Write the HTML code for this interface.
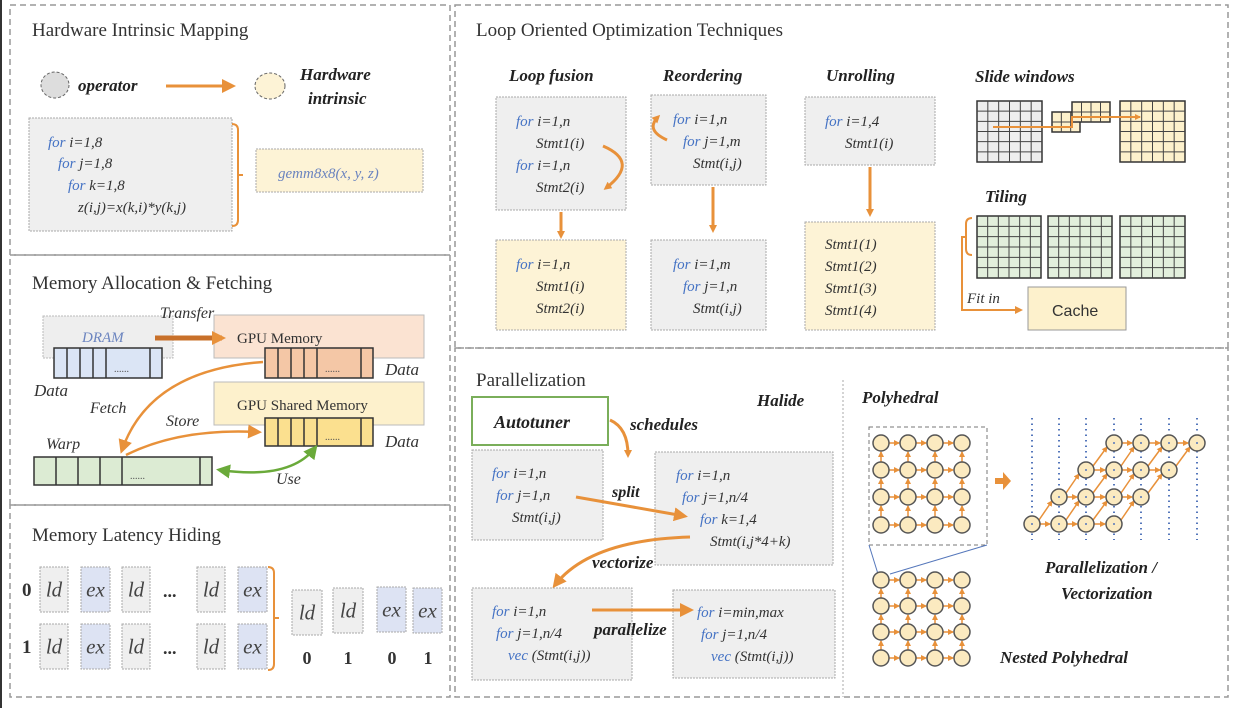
<!DOCTYPE html>
<html><head><meta charset="utf-8"><style>
html,body{margin:0;padding:0;background:#fff;}
svg{display:block;font-family:"Liberation Serif",serif;}
.t{font-size:19px;fill:#333;}
.c{font-size:15px;font-style:italic;fill:#333;}
.k{fill:#4472c4;}
.h{font-size:16px;font-style:italic;font-weight:bold;fill:#222;}
.panel{fill:none;stroke:#999;stroke-width:1.5;stroke-dasharray:6,4;}
.gb{fill:#efefef;stroke:#aaa;stroke-dasharray:2,1;}
.yb{fill:#fdf3d6;stroke:#aaa;stroke-dasharray:2,1;}
.bb{fill:#dde3f3;stroke:#aaa;stroke-dasharray:2,1;}
.or{stroke:#e8913a;stroke-width:3;fill:none;}
</style></head><body>
<svg id="s" width="1240" height="708" viewBox="0 0 1240 708" xmlns="http://www.w3.org/2000/svg">
<defs>
<marker id="a" markerWidth="8" markerHeight="8" refX="5" refY="4" orient="auto" markerUnits="userSpaceOnUse"><path d="M0,0 L8,4 L0,8 z" fill="#e8913a"/></marker>
<marker id="ab" markerWidth="14" markerHeight="14" refX="10" refY="7" orient="auto" markerUnits="userSpaceOnUse"><path d="M0,0 L14,7 L0,14 z" fill="#e8913a"/></marker>
<marker id="ag" markerWidth="14" markerHeight="14" refX="10" refY="7" orient="auto-start-reverse" markerUnits="userSpaceOnUse"><path d="M0,0 L14,7 L0,14 z" fill="#6aaa3a"/></marker>
<marker id="as" markerWidth="6" markerHeight="6" refX="5" refY="3" orient="auto" markerUnits="userSpaceOnUse"><path d="M0,0 L6,3 L0,6 z" fill="#e8913a"/></marker>
</defs>
<rect x="0" y="0" width="1240" height="708" fill="#fff"/>
<line x1="1" y1="0" x2="1" y2="708" stroke="#333" stroke-width="2"/>
<rect class="panel" x="10" y="5" width="440" height="250"/>
<rect class="panel" x="10" y="255" width="440" height="250"/>
<rect class="panel" x="10" y="505" width="440" height="192"/>
<rect class="panel" x="455" y="5" width="773" height="343"/>
<rect class="panel" x="455" y="348" width="773" height="349"/>
<line x1="843" y1="380" x2="843" y2="697" stroke="#aaa" stroke-dasharray="2,2"/>

<text class="t" x="32" y="36">Hardware Intrinsic Mapping</text>
<ellipse cx="55" cy="85" rx="14" ry="13" fill="#ddd" stroke="#666" stroke-dasharray="3,2"/>
<text class="h" x="78" y="91" style="font-size:17px">operator</text>
<line class="or" x1="166" y1="86" x2="232" y2="86" marker-end="url(#ab)"/>
<ellipse cx="270" cy="86" rx="15" ry="13" fill="#fdf3d6" stroke="#666" stroke-dasharray="3,2"/>
<text class="h" x="300" y="80" style="font-size:17px">Hardware</text>
<text class="h" x="308" y="104" style="font-size:17px">intrinsic</text>
<rect class="gb" x="29" y="118" width="203" height="113"/>
<text class="c" x="48" y="147"><tspan class="k">for</tspan> i=1,8</text>
<text class="c" x="58" y="168"><tspan class="k">for</tspan> j=1,8</text>
<text class="c" x="68" y="190"><tspan class="k">for</tspan> k=1,8</text>
<text class="c" x="78" y="212">z(i,j)=x(k,i)*y(k,j)</text>
<path d="M232,124 Q238,124 238,130 L238,220 Q238,226 232,226 M238,175 L243,175" stroke="#e8913a" stroke-width="2" fill="none"/>
<rect class="yb" x="256" y="149" width="167" height="43"/>
<text class="c" x="278" y="178" style="fill:#6b84bf">gemm8x8(x, y, z)</text>

<text class="t" x="32" y="289">Memory Allocation &amp; Fetching</text>
<rect x="43" y="316" width="130" height="42" fill="#eee" stroke="#bbb" stroke-dasharray="2,1"/>
<text class="c" x="82" y="342" style="fill:#6b84bf;font-size:15px">DRAM</text>
<text class="c" x="160" y="318" style="font-size:16px">Transfer</text>
<rect x="214" y="315" width="210" height="43" fill="#fbe3d2" stroke="#bbb"/>
<line x1="155" y1="338" x2="222" y2="338" stroke="#c8702a" stroke-width="5" marker-end="url(#ab)"/>
<text x="237" y="343" style="font-size:15px;fill:#333">GPU Memory</text>
<rect x="54" y="348" width="108" height="30" fill="#dbe5f5" stroke="#333" stroke-width="1.5"/>
<rect x="265" y="348" width="108" height="30" fill="#f4c7a6" stroke="#333" stroke-width="1.5"/>
<rect x="214" y="382" width="210" height="43" fill="#fdf1cc" stroke="#bbb"/>
<text x="237" y="410" style="font-size:15px;fill:#333">GPU Shared Memory</text>
<rect x="265" y="418" width="108" height="28" fill="#fbe08f" stroke="#333" stroke-width="1.5"/>
<rect x="34" y="457" width="178" height="28" fill="#dcebd3" stroke="#333" stroke-width="1.5"/>
<g id="cells"></g>
<text class="c" x="385" y="375" style="font-size:17px">Data</text>
<text class="c" x="34" y="396" style="font-size:17px">Data</text>
<text class="c" x="385" y="447" style="font-size:17px">Data</text>
<text class="c" x="90" y="413" style="font-size:16px">Fetch</text>
<text class="c" x="166" y="426" style="font-size:16px">Store</text>
<text class="c" x="46" y="449" style="font-size:16px">Warp</text>
<text class="c" x="276" y="484" style="font-size:16px">Use</text>
<path d="M263,362 Q150,370 122,450" stroke="#e8913a" stroke-width="2.5" fill="none" marker-end="url(#ab)"/>
<path d="M126,455 Q180,428 258,432" stroke="#e8913a" stroke-width="2.5" fill="none" marker-end="url(#ab)"/>
<path d="M220,470 Q290,480 315,448" stroke="#6aaa3a" stroke-width="2.5" fill="none" marker-start="url(#ag)" marker-end="url(#ag)"/>

<text class="t" x="32" y="541">Memory Latency Hiding</text>
<g id="lat"></g>
<path d="M268,567 Q274,567 274,573 L274,664 Q274,670 268,670 M274,618 L279,618" stroke="#e8913a" stroke-width="2" fill="none"/>

<text class="t" x="476" y="36">Loop Oriented Optimization Techniques</text>
<text class="h" x="509" y="81" style="font-size:17px">Loop fusion</text>
<text class="h" x="663" y="81" style="font-size:17px">Reordering</text>
<text class="h" x="826" y="81" style="font-size:17px">Unrolling</text>
<text class="h" x="975" y="82" style="font-size:17px">Slide windows</text>
<text class="h" x="985" y="202" style="font-size:17px">Tiling</text>
<rect class="gb" x="496" y="97" width="130" height="113"/>
<text class="c" x="516" y="126"><tspan class="k">for</tspan> i=1,n</text>
<text class="c" x="536" y="148">Stmt1(i)</text>
<text class="c" x="516" y="170"><tspan class="k">for</tspan> i=1,n</text>
<text class="c" x="536" y="192">Stmt2(i)</text>
<path d="M603,146 Q640,162 606,188" class="or" marker-end="url(#a)"/>
<rect class="yb" x="496" y="240" width="130" height="90"/>
<text class="c" x="516" y="269"><tspan class="k">for</tspan> i=1,n</text>
<text class="c" x="536" y="291">Stmt1(i)</text>
<text class="c" x="536" y="313">Stmt2(i)</text>
<line class="or" x1="561" y1="212" x2="561" y2="236" marker-end="url(#a)"/>
<rect class="gb" x="651" y="95" width="115" height="90"/>
<text class="c" x="673" y="124"><tspan class="k">for</tspan> i=1,n</text>
<text class="c" x="683" y="146"><tspan class="k">for</tspan> j=1,m</text>
<text class="c" x="693" y="168">Stmt(i,j)</text>
<path d="M667,140 Q645,130 658,117" class="or" marker-end="url(#a)"/>
<rect class="gb" x="651" y="240" width="115" height="90"/>
<text class="c" x="673" y="269"><tspan class="k">for</tspan> i=1,m</text>
<text class="c" x="683" y="291"><tspan class="k">for</tspan> j=1,n</text>
<text class="c" x="693" y="313">Stmt(i,j)</text>
<line class="or" x1="713" y1="187" x2="713" y2="230" marker-end="url(#a)"/>
<rect class="gb" x="805" y="97" width="130" height="68"/>
<text class="c" x="825" y="126"><tspan class="k">for</tspan> i=1,4</text>
<text class="c" x="845" y="148">Stmt1(i)</text>
<rect class="yb" x="805" y="222" width="130" height="108"/>
<text class="c" x="825" y="249">Stmt1(1)</text>
<text class="c" x="825" y="271">Stmt1(2)</text>
<text class="c" x="825" y="293">Stmt1(3)</text>
<text class="c" x="825" y="315">Stmt1(4)</text>
<line class="or" x1="870" y1="167" x2="870" y2="214" marker-end="url(#a)"/>
<g id="grids"></g>
<path d="M972,218 Q966,218 966,224 L966,249 Q966,255 972,255" stroke="#e8913a" stroke-width="2" fill="none"/>
<path d="M966,237 L962,237 L962,310 L1020,310" stroke="#e8913a" stroke-width="2" fill="none" marker-end="url(#a)"/>
<text class="c" x="967" y="303">Fit in</text>
<rect x="1028" y="287" width="98" height="43" fill="#fdf1cc" stroke="#999"/>
<text x="1052" y="316" style="font-size:16px;fill:#333;font-family:'Liberation Sans',sans-serif">Cache</text>

<text class="t" x="476" y="386">Parallelization</text>
<text class="h" x="757" y="406" style="font-size:17px">Halide</text>
<rect x="472" y="397" width="136" height="48" fill="#fff" stroke="#7aae5a" stroke-width="2"/>
<text class="h" x="494" y="428" style="font-size:18px">Autotuner</text>
<text class="h" x="630" y="430" style="font-size:17px">schedules</text>
<path d="M610,420 Q628,428 628,455" class="or" marker-end="url(#a)"/>
<rect class="gb" x="472" y="450" width="131" height="90"/>
<text class="c" x="492" y="478"><tspan class="k">for</tspan> i=1,n</text>
<text class="c" x="496" y="500"><tspan class="k">for</tspan> j=1,n</text>
<text class="c" x="512" y="522">Stmt(i,j)</text>
<rect class="gb" x="655" y="452" width="178" height="113"/>
<text class="c" x="676" y="480"><tspan class="k">for</tspan> i=1,n</text>
<text class="c" x="682" y="502"><tspan class="k">for</tspan> j=1,n/4</text>
<text class="c" x="700" y="524"><tspan class="k">for</tspan> k=1,4</text>
<text class="c" x="710" y="546">Stmt(i,j*4+k)</text>
<text class="h" x="612" y="497" style="font-size:16px">split</text>
<line class="or" x1="576" y1="497" x2="684" y2="516" marker-end="url(#ab)"/>
<rect class="gb" x="472" y="588" width="160" height="92"/>
<text class="c" x="492" y="616"><tspan class="k">for</tspan> i=1,n</text>
<text class="c" x="496" y="638"><tspan class="k">for</tspan> j=1,n/4</text>
<text class="c" x="508" y="660"><tspan class="k">vec</tspan> (Stmt(i,j))</text>
<rect class="gb" x="673" y="590" width="162" height="88"/>
<text class="c" x="697" y="617"><tspan class="k">for</tspan> i=min,max</text>
<text class="c" x="701" y="639"><tspan class="k">for</tspan> j=1,n/4</text>
<text class="c" x="711" y="661"><tspan class="k">vec</tspan> (Stmt(i,j))</text>
<path d="M690,537 Q590,540 555,585" class="or" marker-end="url(#ab)"/>
<text class="h" x="592" y="568" style="font-size:17px">vectorize</text>
<line class="or" x1="592" y1="610" x2="690" y2="610" marker-end="url(#ab)"/>
<text class="h" x="594" y="635" style="font-size:17px">parallelize</text>

<text class="h" x="862" y="403" style="font-size:17px">Polyhedral</text>
<rect x="869" y="427" width="118" height="118" fill="none" stroke="#777" stroke-dasharray="4,3"/>
<line x1="869" y1="545" x2="878" y2="574" stroke="#5577bb"/>
<line x1="987" y1="545" x2="890" y2="574" stroke="#5577bb"/>
<path d="M995,478 L1003,478 L1003,472 L1011,481 L1003,490 L1003,484 L995,484 z" fill="#e8913a"/>
<g id="poly"></g>
<text class="h" x="1045" y="573" style="font-size:17px">Parallelization /</text>
<text class="h" x="1061" y="599" style="font-size:17px">Vectorization</text>
<text class="h" x="1000" y="663" style="font-size:17px">Nested Polyhedral</text>
</svg>
<script>
var NS="http://www.w3.org/2000/svg";
function el(p,t,a){var e=document.createElementNS(NS,t);for(var k in a)e.setAttribute(k,a[k]);document.getElementById(p).appendChild(e);return e;}
function cells(x,y,w,h,n,cw){for(var i=1;i<=n;i++)el("cells","line",{x1:x+i*cw,y1:y,x2:x+i*cw,y2:y+h,stroke:"#333","stroke-width":1.5});el("cells","line",{x1:x+w-12,y1:y,x2:x+w-12,y2:y+h,stroke:"#333","stroke-width":1.5});var t=el("cells","text",{x:x+n*cw+8,y:y+h-6,"font-size":"10",fill:"#555"});t.textContent="......";}
cells(54,348,108,30,4,13);cells(265,348,108,30,4,13);cells(265,418,108,28,4,13);cells(34,457,178,28,4,22);
function box(x,y,w,h,cls,txt){el("lat","rect",{x:x,y:y,width:w,height:h,"class":cls});var t=el("lat","text",{x:x+w/2,y:y+h/2+7,"text-anchor":"middle","font-size":"21","font-style":"italic",fill:"#444"});t.textContent=txt;}
[[567,"0"],[624,"1"]].forEach(function(r){var y=r[0];var l=el("lat","text",{x:22,y:y+29,"font-size":"19",fill:"#333","font-weight":"bold"});l.textContent=r[1];
box(40,y,28,45,"gb","ld");box(81,y,29,45,"bb","ex");box(122,y,28,45,"gb","ld");var d=el("lat","text",{x:163,y:y+30,"font-size":"18",fill:"#333","font-weight":"bold"});d.textContent="...";box(197,y,28,45,"gb","ld");box(238,y,29,45,"bb","ex");});
box(292,590,30,45,"gb","ld");box(333,588,30,45,"gb","ld");box(377,587,29,45,"bb","ex");box(413,588,29,45,"bb","ex");
[[307,"0"],[348,"1"],[392,"0"],[428,"1"]].forEach(function(a){var t=el("lat","text",{x:a[0],y:664,"text-anchor":"middle","font-size":"18","font-weight":"bold",fill:"#333"});t.textContent=a[1];});
function grid(x,y,w,h,nx,ny,fill){el("grids","rect",{x:x,y:y,width:w,height:h,fill:fill,stroke:"#333","stroke-width":1.5});for(var i=1;i<nx;i++)el("grids","line",{x1:x+i*w/nx,y1:y,x2:x+i*w/nx,y2:y+h,stroke:"#444","stroke-width":1});for(var j=1;j<ny;j++)el("grids","line",{x1:x,y1:y+j*h/ny,x2:x+w,y2:y+j*h/ny,stroke:"#444","stroke-width":1});}
grid(977,101,65,61,6,6,"#eee");grid(1120,101,65,61,6,6,"#fdf1cc");grid(1052,112,28,20,3,2,"#fdf1cc");grid(1072,102,38,20,4,2,"#fdf1cc");
grid(977,216,64,62,6,6,"#e2efdc");grid(1048,216,64,62,6,6,"#e2efdc");grid(1120,216,65,62,6,6,"#e2efdc");
el("grids","path",{d:"M993,127 L1072,127 L1072,117 L1140,117",stroke:"#e8913a","stroke-width":2,fill:"none","marker-end":"url(#as)"});
function circ(cx,cy,dot){el("poly","circle",{cx:cx,cy:cy,r:8,fill:"#fbeac0",stroke:"#555","stroke-width":1.5});if(dot)el("poly","circle",{cx:cx,cy:cy,r:1,fill:"#5577bb"});}
function arr(x1,y1,x2,y2){el("poly","line",{x1:x1,y1:y1,x2:x2,y2:y2,stroke:"#e8913a","stroke-width":1.5,"marker-end":"url(#as)"});}
function pgrid(x0,ys){var xs=[x0,x0+27,x0+54,x0+81];for(var r=0;r<4;r++)for(var c=0;c<4;c++){if(c<3)arr(xs[c]+8,ys[r],xs[c+1]-9,ys[r]);if(r<3)arr(xs[c],ys[r+1]-8,xs[c],ys[r]+9);}for(var r=0;r<4;r++)for(var c=0;c<4;c++)circ(xs[c],ys[r]);}
pgrid(881,[443,470,497,525]);pgrid(881,[580,606,632,658]);
var vx=[1032,1059,1086,1114,1141,1169,1197];vx.forEach(function(x){el("poly","line",{x1:x,y1:418,x2:x,y2:540,stroke:"#5577bb","stroke-width":2,"stroke-dasharray":"1.5,4"});});
var ys=[524,497,470,443];
for(var r=0;r<4;r++)for(var c=0;c<4;c++){var cx=vx[r+c],cy=ys[r];if(c<3)arr(cx+8,cy,vx[r+c+1]-9,cy);if(r<3)arr(cx+7,cy-4,vx[r+c+1]-7,ys[r+1]+4);}
for(var r=0;r<4;r++)for(var c=0;c<4;c++)circ(vx[r+c],ys[r],true);
</script>
</body></html>
